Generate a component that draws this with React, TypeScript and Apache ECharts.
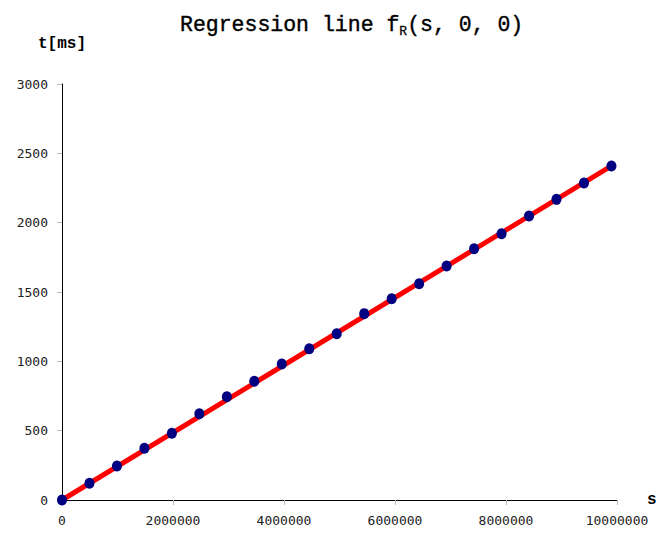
import React, { useEffect, useRef } from "react";
import * as echarts from "echarts";

const sizes: number[] = [
  0, 495000, 990000, 1485000, 1980000, 2475000, 2970000, 3465000, 3960000, 4455000,
  4950000, 5445000, 5940000, 6435000, 6930000, 7425000, 7920000, 8415000, 8910000, 9405000, 9900000,
];
const times: number[] = [
  0, 120, 245, 373, 481, 622, 745, 856, 981, 1091,
  1199, 1344, 1452, 1560, 1688, 1812, 1920, 2048, 2168, 2286, 2409,
];
const regressionX: number[] = [0, 9900000];
const regressionY: number[] = [0, 2409];

export default function App() {
  const ref = useRef<HTMLDivElement>(null);
  useEffect(() => {
    if (!ref.current) return;
    const chart = echarts.init(ref.current, null, { renderer: "svg" });
    const mono = "'Liberation Mono', 'DejaVu Sans Mono', monospace";
    const plain = (v: number) => String(v);
    chart.setOption({
      animation: false,
      backgroundColor: "#fff",
      title: {
        text: "Regression line f{sub|R}(s, 0, 0)",
        left: 175,
        top: 6,
        textStyle: {
          fontFamily: mono,
          fontSize: 21.5,
          fontWeight: "normal",
          color: "#000",
          textBorderColor: "#000",
          textBorderWidth: 0.4,
          rich: {
            sub: {
              fontFamily: mono,
              fontSize: 13,
              fontWeight: "normal",
              color: "#000",
              textBorderColor: "#000",
              textBorderWidth: 0.3,
              verticalAlign: "bottom",
              padding: [14, 0, 0, 0],
            },
          },
        },
      },
      grid: { left: 62, width: 555, top: 84, height: 416, containLabel: false, outerBoundsMode: "none" },
      xAxis: {
        type: "value",
        min: 0,
        max: 10000000,
        interval: 2000000,
        name: "s",
        nameLocation: "end",
        nameGap: 30,
        nameTextStyle: { fontFamily: mono, fontSize: 16, fontWeight: "bold", color: "#000", verticalAlign: "middle" },
        axisLine: { show: true, lineStyle: { color: "#000", width: 1 } },
        axisTick: { show: true, length: 5, lineStyle: { color: "#bbb" } },
        axisLabel: { fontFamily: "'DejaVu Sans Mono', monospace", fontSize: 13, color: "#222", margin: 14, formatter: plain },
        splitLine: { show: false },
      },
      yAxis: {
        type: "value",
        min: 0,
        max: 3000,
        interval: 500,
        name: "t[ms]",
        nameLocation: "end",
        nameGap: 32,
        nameTextStyle: { fontFamily: mono, fontSize: 16, fontWeight: "bold", color: "#000", align: "center" },
        axisLine: { show: true, lineStyle: { color: "#000", width: 1 } },
        axisTick: { show: true, length: 5, lineStyle: { color: "#bbb" } },
        axisLabel: { fontFamily: "'DejaVu Sans Mono', monospace", fontSize: 13, color: "#222", margin: 14, formatter: plain },
        splitLine: { show: false },
      },
      series: [
        {
          type: "line",
          data: regressionX.map((x, i) => [x, regressionY[i]]),
          showSymbol: false,
          lineStyle: { color: "#ff0000", width: 5 },
          z: 2,
        },
        {
          type: "scatter",
          data: sizes.map((x, i) => [x, times[i]]),
          symbol: "circle",
          symbolSize: [10, 11],
          itemStyle: { color: "#000080", opacity: 1 },
          z: 3,
        },
      ],
    });
    return () => chart.dispose();
  }, []);
  return (
    <div
      ref={ref}
      style={{ position: "fixed", left: 0, top: 0, width: 658, height: 533 }}
    />
  );
}
